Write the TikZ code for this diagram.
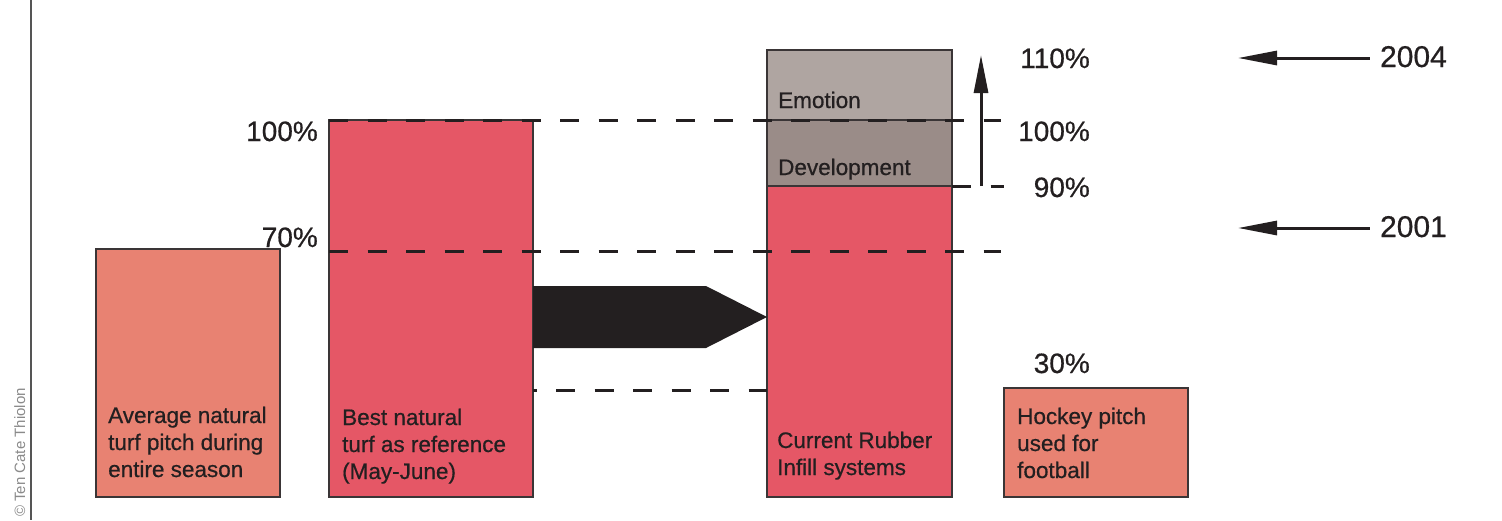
\documentclass[tikz,border=0pt]{standalone}
\usepackage{fontspec}
\setmainfont{Liberation Sans}[FakeBold=0.6]
\newfontfamily\creditfont{Liberation Sans}
\usetikzlibrary{arrows.meta}
\definecolor{salmon}{HTML}{E88272}
\definecolor{redbar}{HTML}{E55766}
\definecolor{emo}{HTML}{AFA5A1}
\definecolor{devc}{HTML}{9A8C88}
\definecolor{ink}{HTML}{231F20}
\definecolor{edge}{HTML}{3A3536}
\definecolor{rule}{HTML}{555555}
\definecolor{credit}{HTML}{8A8A8A}
\begin{document}
\begin{tikzpicture}[x=1pt,y=-1pt,
  bar/.style={draw=edge,line width=1.4pt,anchor=north west,inner sep=0pt,outer sep=0pt},
  lbl/.style={font=\fontsize{22.5}{27}\selectfont,text=ink,align=left,anchor=base west,inner sep=0pt},
  pct/.style={font=\fontsize{28}{30}\selectfont,text=ink,anchor=base east,inner sep=0pt},
  yr/.style={font=\fontsize{30}{32}\selectfont,text=ink,anchor=base east,inner sep=0pt},
  dsh/.style={draw=ink,line width=3pt,dash pattern=on 19pt off 19.5pt},
  arr/.style={draw=ink,line width=3pt,-{Triangle[length=38pt,width=14pt]}},
]
\useasboundingbox (0,0) rectangle (1502,520);
\draw[line width=1.5pt,draw=rule] (31,0) -- (31,520);
\node[rotate=90,anchor=base east,font=\creditfont\fontsize{15}{16}\selectfont,text=credit,inner sep=0pt] (copy) at (25,388) {© Ten Cate Thiolon};

% bars
\node[bar,fill=salmon,minimum width=184pt,minimum height=248pt] (avg) at (96,249) {};
\node[bar,fill=redbar,minimum width=204pt,minimum height=377pt] (best) at (329,120) {};
\node[bar,fill=emo,minimum width=185pt,minimum height=70pt] (emo) at (767,50) {};
\node[bar,fill=devc,minimum width=185pt,minimum height=66pt] (dev) at (767,120) {};
\node[bar,fill=redbar,minimum width=185pt,minimum height=311pt] (cur) at (767,186) {};
\node[bar,fill=salmon,minimum width=184pt,minimum height=109pt] (hockey) at (1004,388) {};

% bar labels (anchor = baseline of the last line)
\node[lbl] (tavg) at (108,477) {Average natural\\turf pitch during\\entire season};
\node[lbl] (tbest) at (342,479) {Best natural\\turf as reference\\(May-June)};
\node[lbl] (tcur) at (777,475) {Current Rubber\\Infill systems};
\node[lbl] (thock) at (1017,478) {Hockey pitch\\used for\\football};
\node[lbl] (temo) at (778,108) {Emotion};
\node[lbl] (tdev) at (778,175) {Development};

% dashed reference lines
\coordinate (e100) at (1001,120);
\coordinate (e70) at (1001,251);
\coordinate (e90) at (1004,186);
\coordinate (l30) at (0,390);
\coordinate (tipy) at (0,317);
\draw[dsh] (best.north west) -- (e100);
\draw[dsh] (best.west |- e70) -- (e70);
\draw[dsh] (cur.north east) -- (e90);
\draw[dsh,dash phase=15.5pt] (best.east |- l30) -- (cur.west |- l30);

% big transfer arrow
\coordinate (sh1) at (706,286);
\coordinate (sh2) at (706,348);
\fill[ink] (best.east |- sh1) -- (sh1) -- (cur.west |- tipy) -- (sh2) -- (best.east |- sh2) -- cycle;

% vertical growth arrow
\coordinate (va0) at (981,186);
\coordinate (va1) at (981,55);
\draw[arr] (va0) -- (va1);

% percentages
\node[pct] (p110) at (1090,68) {110\%};
\node[pct] (p100r) at (1090,141) {100\%};
\node[pct] (p90) at (1090,197) {90\%};
\node[pct] (p30) at (1090,373) {30\%};
\node[pct] (p100l) at (318,141) {100\%};
\node[pct] (p70) at (318,247) {70\%};

% years
\node[yr] (y2004) at (1447,67) {2004};
\node[yr] (y2001) at (1447,237) {2001};
\coordinate (t2004) at (1238,58);
\coordinate (t2001) at (1238,228);
\draw[arr,-{Triangle[length=39pt,width=14pt]}] ([xshift=-10pt]y2004.west |- t2004) -- (t2004);
\draw[arr,-{Triangle[length=39pt,width=14pt]}] ([xshift=-10pt]y2001.west |- t2001) -- (t2001);
\end{tikzpicture}
\end{document}
